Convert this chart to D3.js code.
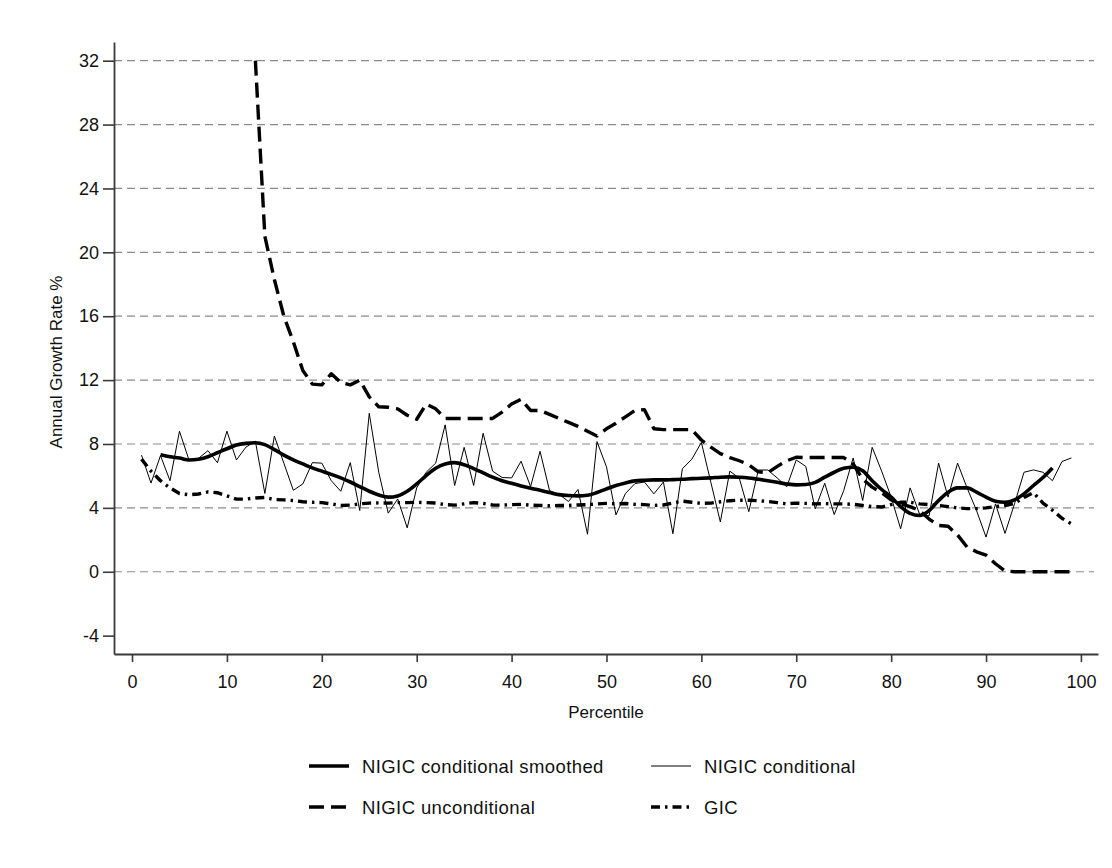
<!DOCTYPE html>
<html>
<head>
<meta charset="utf-8">
<script src="https://cdn.jsdelivr.net/npm/d3@7"></script>
<style>
  html, body { margin: 0; padding: 0; background: #fff; }
  svg { display: block; font-family: "Liberation Sans", Arial, sans-serif; }
</style>
</head>
<body>
<svg id="chart" width="1112" height="868"></svg>
<script>
// ---------- data ----------
const xTicks = [0, 10, 20, 30, 40, 50, 60, 70, 80, 90, 100];
const yTicks = [-4, 0, 4, 8, 12, 16, 20, 24, 28, 32];
const gridValues = [0, 4, 8, 12, 16, 20, 24, 28, 32];

// NIGIC conditional (percentiles 1..99)
const condStart = 1;
const conditional = [
  7.3, 5.55, 7.27, 5.7, 8.8, 7.0, 7.1, 7.58, 6.83, 8.8,
  7.0, 7.8, 8.17, 4.9, 8.5, 6.8, 5.1, 5.5, 6.83, 6.8,
  5.7, 5.04, 6.83, 3.83, 9.92, 6.23, 3.67, 4.56, 2.75, 5.25,
  6.23, 6.8, 9.2, 5.4, 7.79, 5.4, 8.67, 6.3, 5.9, 5.875,
  6.92, 5.33, 7.54, 5.08, 4.85, 4.4, 5.15, 2.35, 8.15, 6.57,
  3.56, 4.9, 5.52, 5.62, 4.88, 5.62, 2.38, 6.45, 7.05, 8.1,
  5.6, 3.12, 6.3, 5.85, 3.76, 6.37, 6.37, 5.87, 5.32, 7.0,
  6.6, 3.94, 5.54, 3.58, 5.08, 7.125, 4.46, 7.79, 6.3, 4.67,
  2.69, 5.25, 3.6, 3.5, 6.8, 4.67, 6.8, 5.25, 3.83, 2.17,
  4.25, 2.4, 4.25, 6.23, 6.375, 6.23, 5.7, 6.9, 7.125
];

// NIGIC conditional smoothed (percentiles 3..97)
const smoothStart = 3;
const smoothed = [
  7.33, 7.2, 7.12, 7.0, 7.04, 7.2, 7.45, 7.7, 7.93, 8.04,
  8.08, 7.96, 7.65, 7.3, 7.0, 6.75, 6.5, 6.3, 6.1, 5.88,
  5.62, 5.33, 5.04, 4.81, 4.67, 4.75, 5.04, 5.5, 6.02, 6.48,
  6.75, 6.83, 6.7, 6.46, 6.19, 5.92, 5.7, 5.54, 5.375, 5.23,
  5.1, 4.96, 4.83, 4.77, 4.75, 4.79, 4.96, 5.19, 5.4, 5.56,
  5.69, 5.73, 5.75, 5.75, 5.77, 5.79, 5.83, 5.85, 5.88, 5.92,
  5.94, 5.92, 5.875, 5.79, 5.7, 5.6, 5.5, 5.44, 5.46, 5.6,
  5.92, 6.23, 6.48, 6.54, 6.33, 5.7, 5.15, 4.67, 4.08, 3.65,
  3.52, 3.83, 4.46, 4.98, 5.25, 5.25, 4.98, 4.67, 4.42, 4.35,
  4.5, 4.875, 5.4, 5.9, 6.5
];

// NIGIC unconditional (percentiles 13..99)
const uncondStart = 13;
const unconditional = [
  32.0, 21.0, 18.3, 16.0, 14.4, 12.6, 11.75, 11.7,
  12.4, 11.85, 11.7, 12.0, 10.95, 10.33, 10.3, 10.2, 9.8, 9.55,
  10.5, 10.2, 9.6, 9.6, 9.6, 9.6, 9.6, 9.6, 10.0, 10.5,
  10.8, 10.1, 10.1, 9.85, 9.6, 9.35, 9.1, 8.8, 8.5, 8.95,
  9.3, 9.7, 10.1, 10.15, 8.95, 8.9, 8.9, 8.9, 8.9, 8.25,
  7.8, 7.4, 7.15, 6.95, 6.7, 6.26, 6.2, 6.6, 6.95, 7.17,
  7.15, 7.15, 7.15, 7.15, 7.15, 6.75, 5.8, 5.3, 4.95, 4.5,
  4.25, 4.08, 3.83, 3.3, 2.9, 2.85, 2.3, 1.55, 1.25, 1.04,
  0.5, 0.05, 0, 0, 0, 0, 0, 0, 0
];

// GIC (percentiles 1..99)
const gicStart = 1;
const gic = [
  7.05, 6.3, 5.7, 5.25, 4.9, 4.82, 4.87, 5.0, 4.95, 4.75,
  4.55, 4.55, 4.62, 4.65, 4.52, 4.5, 4.46, 4.38, 4.35, 4.33,
  4.25, 4.15, 4.17, 4.25, 4.3, 4.31, 4.3, 4.33, 4.33, 4.35,
  4.33, 4.3, 4.2, 4.17, 4.25, 4.33, 4.28, 4.18, 4.17, 4.2,
  4.22, 4.17, 4.15, 4.13, 4.15, 4.15, 4.18, 4.2, 4.25, 4.28,
  4.25, 4.27, 4.22, 4.2, 4.15, 4.18, 4.3, 4.42, 4.35, 4.28,
  4.3, 4.38, 4.45, 4.48, 4.48, 4.45, 4.4, 4.33, 4.25, 4.3,
  4.28, 4.25, 4.27, 4.25, 4.25, 4.22, 4.15, 4.08, 4.05, 4.2,
  4.35, 4.35, 4.25, 4.2, 4.15, 4.08, 4.0, 3.95, 3.95, 4.0,
  4.08, 4.15, 4.28, 4.65, 4.95, 4.3, 3.85, 3.35, 3.0
];

const legendLabels = ["NIGIC conditional smoothed", "NIGIC conditional", "NIGIC unconditional", "GIC"];

// ---------- chart ----------
const FONT = '"Liberation Sans", Arial, sans-serif';
const svg = d3.select("#chart");
const x = d3.scaleLinear().domain([-1.9, 101.8]).range([114, 1098]);
const y = d3.scaleLinear().domain([-5.15, 33.17]).range([654, 42]);

const toPts = (arr, start) => arr.map((v, i) => [start + i, v]);

// grid
svg.append("g").selectAll("line").data(gridValues).join("line")
  .attr("x1", 114).attr("x2", 1094)
  .attr("y1", d => y(d)).attr("y2", d => y(d))
  .attr("stroke", "#8a8a8a").attr("stroke-width", 1.2)
  .attr("stroke-dasharray", "8,5");

// axes
const axisColor = "#3a3a3a";
const fmt = d => String(d);
const gy = svg.append("g").attr("transform", "translate(114,0)")
  .call(d3.axisLeft(y).tickValues(yTicks).tickSize(11).tickSizeOuter(0).tickPadding(4).tickFormat(fmt));
const gx = svg.append("g").attr("transform", "translate(0,654)")
  .call(d3.axisBottom(x).tickValues(xTicks).tickSize(8).tickSizeOuter(0).tickPadding(13).tickFormat(fmt));
[gx, gy].forEach(g => {
  g.select(".domain").attr("stroke", axisColor).attr("stroke-width", 1.8);
  g.selectAll(".tick line").attr("stroke", axisColor).attr("stroke-width", 1.6);
  g.selectAll(".tick text").attr("fill", "#111").style("font-size", "18px")
    .style("font-family", FONT);
});

// axis titles
svg.append("text").attr("x", 606).attr("y", 718).attr("text-anchor", "middle")
  .style("font-size", "17px").attr("fill", "#111").text("Percentile");
svg.append("text").attr("transform", "translate(62,362) rotate(-90)").attr("text-anchor", "middle")
  .style("font-size", "17px").attr("fill", "#111").text("Annual Growth Rate %");

// series styles
const styles = {
  smoothed: { width: 3.6, dash: null },
  conditional: { width: 1, dash: null },
  unconditional: { width: 3.4, dash: "15,7" },
  gic: { width: 3.4, dash: "9,5,2.5,5" }
};

const lineGen = d3.line().x(d => x(d[0])).y(d => y(d[1]));
const smoothGen = d3.line().x(d => x(d[0])).y(d => y(d[1])).curve(d3.curveMonotoneX);

const plot = svg.append("g");
function drawSeries(pts, st, gen) {
  plot.append("path").datum(pts)
    .attr("d", gen)
    .attr("fill", "none").attr("stroke", "#000")
    .attr("stroke-width", st.width)
    .attr("stroke-linejoin", "round")
    .attr("stroke-dasharray", st.dash);
}
drawSeries(toPts(gic, gicStart), styles.gic, lineGen);
drawSeries(toPts(unconditional, uncondStart), styles.unconditional, lineGen);
drawSeries(toPts(conditional, condStart), styles.conditional, lineGen);
drawSeries(toPts(smoothed, smoothStart), styles.smoothed, smoothGen);

// legend
const legendItems = [
  { label: legendLabels[0], st: styles.smoothed, x: 309, y: 766 },
  { label: legendLabels[1], st: styles.conditional, x: 651, y: 766 },
  { label: legendLabels[2], st: styles.unconditional, x: 309, y: 807 },
  { label: legendLabels[3], st: styles.gic, x: 651, y: 807 }
];
const lg = svg.append("g");
legendItems.forEach(it => {
  lg.append("line").attr("x1", it.x).attr("x2", it.x + 40)
    .attr("y1", it.y).attr("y2", it.y)
    .attr("stroke", "#000").attr("stroke-width", it.st.width)
    .attr("stroke-dasharray", it.st.dash);
  lg.append("text").attr("x", it.x + 53).attr("y", it.y + 6.5)
    .style("font-size", "18.5px").style("letter-spacing", "0.4px")
    .attr("fill", "#111").text(it.label);
});
</script>
</body>
</html>
